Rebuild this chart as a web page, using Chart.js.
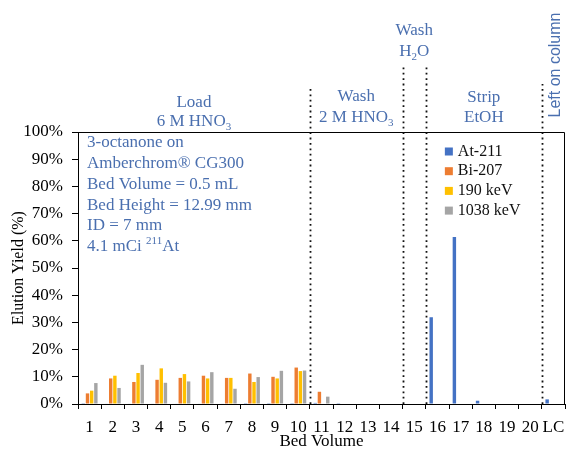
<!DOCTYPE html>
<html><head><meta charset="utf-8">
<script src="https://cdn.jsdelivr.net/npm/chart.js@4.4.1/dist/chart.umd.min.js"></script>
<style>html,body{margin:0;padding:0;background:#fff}#wrap{width:568px;height:450px;position:relative}</style>
</head><body><div id="wrap"><canvas id="c" width="568" height="450"></canvas></div>
<script>
const categories = ['1','2','3','4','5','6','7','8','9','10','11','12','13','14','15','16','17','18','19','20','LC'];
const seriesNames = ['At-211','Bi-207','190 keV','1038 keV'];
const at211   = [0.3,0.2,0.2,0.2,0.2,0.2,0.2,0.3,0.3,0.3, 0.4,0.3,0,0,0,31.9,61.4,1.2,0,0,1.7];
const bi207   = [3.9,9.4,8.1,8.9,9.6,10.4,9.6,11.2,10.0,13.4, 4.5,0,0,0,0,0,0,0,0,0,0];
const kev190  = [4.9,10.4,11.4,13.1,11.0,9.4,9.6,8.1,9.4,12.1, 0,0,0,0,0,0,0,0,0,0,0];
const kev1038 = [7.7,5.9,14.4,7.8,8.3,11.7,5.6,9.9,12.2,12.3, 2.7,0,0,0,0,0,0,0,0,0,0];
const yTickValues = [0,10,20,30,40,50,60,70,80,90,100];
const phaseBoundaries = [10, 14, 15, 20]; // dotted line after this many categories
const infoLines = [
  [['3-octanone on','n']],
  [['Amberchrom® CG300','n']],
  [['Bed Volume = 0.5 mL','n']],
  [['Bed Height = 12.99 mm','n']],
  [['ID = 7 mm','n']],
  [['4.1 mCi ','n'],['211','sup'],['At','n']]
];
const phases = [
  {from:0, to:10, lines:[[['Load','n']],[['6 M HNO','n'],['3','sub']]]},
  {from:10, to:14, lines:[[['Wash','n']],[['2 M HNO','n'],['3','sub']]]},
  {from:14, to:15, lines:[[['Wash','n']],[['H','n'],['2','sub'],['O','n']]]},
  {from:15, to:20, lines:[[['Strip','n']],[['EtOH','n']]]}
];
const colors = ['#4472C4','#ED7D31','#FFC000','#A5A5A5'];
const SERIF = '"Liberation Serif","Times New Roman",serif';
const TXT_BLUE = '#4A6FAF';

function drawRich(ctx, parts, x, cy, size, align) {
  const small = Math.round(size*0.62);
  const widths = parts.map(p => { ctx.font = (p[1]==='n'?size:small)+'px '+SERIF; return ctx.measureText(p[0]).width; });
  const total = widths.reduce((a,b)=>a+b,0);
  let cx = align==='center' ? x - total/2 : x;
  ctx.textAlign='left'; ctx.textBaseline='middle';
  parts.forEach((p,i)=>{
    ctx.font = (p[1]==='n'?size:small)+'px '+SERIF;
    const dy = p[1]==='sub' ? size*0.32 : (p[1]==='sup' ? -size*0.3 : 0);
    ctx.fillText(p[0], cx, cy+dy);
    cx += widths[i];
  });
}

const annot = {
  id:'annot',
  afterDraw(chart){
    const ctx = chart.ctx, xs = chart.scales.x, ca = chart.chartArea;
    const edge = k => k<=0 ? ca.left : (k>=categories.length ? ca.right : (xs.getPixelForValue(k-1)+xs.getPixelForValue(k))/2);
    ctx.save();
    // frame top & right
    ctx.strokeStyle='#000'; ctx.lineWidth=1;
    ctx.beginPath(); ctx.moveTo(ca.left, ca.top+0.5); ctx.lineTo(ca.right-0.5, ca.top+0.5); ctx.lineTo(ca.right-0.5, ca.bottom); ctx.stroke();
    // dotted lines
    ctx.strokeStyle='#111'; ctx.lineWidth=1.8; ctx.setLineDash([1.8,3.6]);
    const tops = {10:88, 14:64, 15:64, 20:84};
    phaseBoundaries.forEach(b=>{
      const x = Math.round(edge(b))+0.5;
      ctx.beginPath(); ctx.moveTo(x, ca.bottom); ctx.lineTo(x, tops[b]); ctx.stroke();
    });
    ctx.setLineDash([]);
    // phase labels
    ctx.fillStyle = TXT_BLUE;
    const ys = [[103,122],[97,118],[31,52],[98,118]];
    phases.forEach((p,i)=>{
      const cx = (edge(p.from)+edge(p.to))/2;
      p.lines.forEach((ln,j)=> drawRich(ctx, ln, cx, ys[i][j], 17, 'center'));
    });
    // left on column
    ctx.save();
    ctx.translate((edge(20)+ca.right)/2+2, 65);
    ctx.rotate(-Math.PI/2);
    ctx.font = '16px "Liberation Sans",Arial,sans-serif';
    ctx.textAlign='center'; ctx.textBaseline='middle';
    ctx.fillText('Left on column', 0, 0);
    ctx.restore();
    // info box
    infoLines.forEach((ln,j)=> drawRich(ctx, ln, ca.left+9, ca.top+11+j*20.7, 17, 'left'));
    // legend
    const lx = edge(15)+19;
    chart.data.datasets.forEach((ds,i)=>{
      const cy = ca.top+19.5+i*19.7;
      ctx.fillStyle = ds.backgroundColor;
      ctx.fillRect(lx, cy-4, 8, 8);
      ctx.fillStyle = '#111';
      ctx.font = '16px '+SERIF; ctx.textAlign='left'; ctx.textBaseline='middle';
      ctx.fillText(ds.label, lx+13, cy);
    });
    ctx.restore();
  }
};

new Chart(document.getElementById('c'), {
  type:'bar',
  data:{
    labels: categories,
    datasets:[at211,bi207,kev190,kev1038].map((d,i)=>({label:seriesNames[i], data:d, backgroundColor:colors[i], borderWidth:0, categoryPercentage:0.72, barPercentage:0.82}))
  },
  options:{
    responsive:false, animation:false,
    layout:{padding:{top:132,right:3,left:0,bottom:0}},
    plugins:{legend:{display:false}, tooltip:{enabled:false}},
    scales:{
      x:{
        grid:{offset:true, drawOnChartArea:false, tickLength:5, color:'#000'},
        border:{display:true, color:'#000'},
        ticks:{color:'#000', font:{family:SERIF, size:17}, padding:8, maxRotation:0, autoSkip:false},
        title:{display:true, text:'Bed Volume', color:'#000', font:{family:SERIF, size:17, lineHeight:1}, padding:{top:0,bottom:0}},
        afterFit(s){ s.height = 46; s.paddingLeft = 0; s.paddingRight = 0; }
      },
      y:{
        min:0, max:100,
        afterBuildTicks(s){ s.ticks = yTickValues.map(v=>({value:v})); },
        grid:{drawOnChartArea:false, tickLength:6, color:'#000'},
        border:{display:true, color:'#000'},
        ticks:{color:'#000', font:{family:SERIF, size:17}, padding:9, callback:v=>v+'%'},
        title:{display:true, text:'Elution Yield (%)', color:'#000', font:{family:SERIF, size:16}, padding:{top:9,bottom:0}},
        afterFit(s){ s.width = 78; s.paddingTop = 0; s.paddingBottom = 0; }
      }
    }
  },
  plugins:[annot]
});
</script></body></html>
